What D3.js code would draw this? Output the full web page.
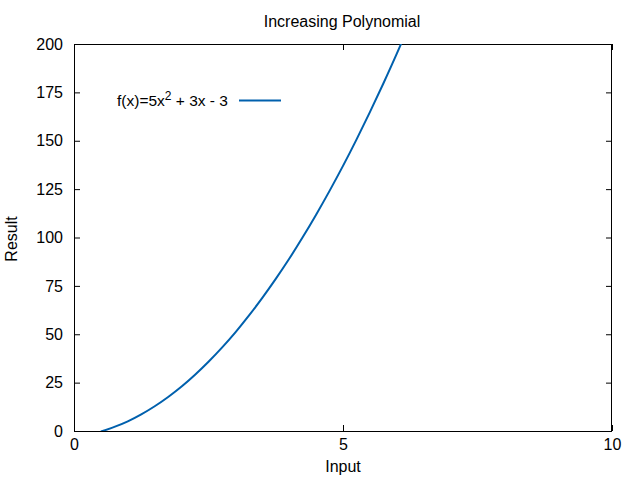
<!DOCTYPE html>
<html>
<head>
<meta charset="utf-8">
<script src="https://cdn.jsdelivr.net/npm/d3@7"></script>
<style>
  html, body { margin: 0; padding: 0; background: #fff; }
  svg { display: block; font-family: "Liberation Sans", Arial, sans-serif; }
</style>
</head>
<body>
<svg id="chart" width="640" height="480"></svg>
<script>
// Data
const inputs  = [0.5, 0.75, 1, 1.25, 1.5, 1.75, 2, 2.25, 2.5, 2.75, 3, 3.25, 3.5, 3.75, 4, 4.25, 4.5, 4.75, 5, 5.25, 5.5, 5.75, 6, 6.1];
const results = [-0.3, 2.1, 5, 8.6, 12.8, 17.6, 23, 29.1, 35.8, 43.1, 51, 59.6, 68.8, 78.6, 89, 100.1, 111.8, 124.1, 137, 150.6, 164.8, 179.6, 195, 201.4];
const xTicks = [0, 5, 10];
const yTicks = [0, 25, 50, 75, 100, 125, 150, 175, 200];
const titleText = "Increasing Polynomial";
const xLabel = "Input";
const yLabel = "Result";
const seriesName = "f(x)=5x";

const svg = d3.select("#chart");
const pL = 74, pR = 612, pT = 44, pB = 431;
const x = d3.scaleLinear().domain([0, 10]).range([pL, pR]);
const y = d3.scaleLinear().domain([0, 200]).range([pB, pT]);
const color = "#0060ad";

svg.append("defs").append("clipPath").attr("id", "clip")
  .append("rect").attr("x", pL).attr("y", pT).attr("width", pR - pL).attr("height", pB - pT);

// Axes with inward ticks
const tickLen = 6;
const axB = svg.append("g").attr("transform", `translate(0,${pB})`)
  .call(d3.axisBottom(x).tickValues(xTicks).tickSizeInner(-tickLen).tickSizeOuter(0).tickPadding(8));
const axT = svg.append("g").attr("transform", `translate(0,${pT})`)
  .call(d3.axisTop(x).tickValues(xTicks).tickSizeInner(-tickLen).tickSizeOuter(0).tickFormat(""));
const axL = svg.append("g").attr("transform", `translate(${pL},0)`)
  .call(d3.axisLeft(y).tickValues(yTicks).tickSizeInner(-tickLen).tickSizeOuter(0).tickPadding(11));
const axR = svg.append("g").attr("transform", `translate(${pR},0)`)
  .call(d3.axisRight(y).tickValues(yTicks).tickSizeInner(-tickLen).tickSizeOuter(0).tickFormat(""));
[axB, axT, axL, axR].forEach(g => {
  g.select(".domain").remove();
  g.selectAll("line").attr("stroke", "#000").attr("stroke-width", 1);
  g.selectAll("text").attr("font-size", 16).attr("fill", "#000")
    .attr("font-family", "Liberation Sans, Arial, sans-serif");
});
axB.selectAll("text").attr("dy", "0.71em");

// Frame
svg.append("rect").attr("x", pL + 0.5).attr("y", pT + 0.5)
  .attr("width", pR - pL - 1).attr("height", pB - pT)
  .attr("fill", "none").attr("stroke", "#000").attr("stroke-width", 1);

// Curve
const pts = inputs.map((d, i) => [d, results[i]]);
svg.append("path").datum(pts)
  .attr("clip-path", "url(#clip)")
  .attr("fill", "none").attr("stroke", color).attr("stroke-width", 2)
  .attr("d", d3.line().x(d => x(d[0])).y(d => y(d[1])).curve(d3.curveMonotoneX));

// Title & labels
svg.append("text").attr("x", 342).attr("y", 27).attr("text-anchor", "middle")
  .attr("font-size", 16).text(titleText);
svg.append("text").attr("x", 343).attr("y", 472).attr("text-anchor", "middle")
  .attr("font-size", 16).text(xLabel);
svg.append("text").attr("transform", "translate(17,239) rotate(-90)").attr("text-anchor", "middle")
  .attr("font-size", 16).text(yLabel);

// Legend
const lt = svg.append("text").attr("x", 117).attr("y", 106).attr("font-size", 15.5);
lt.append("tspan").text(seriesName);
lt.append("tspan").attr("dy", -6).attr("font-size", 12).text("2");
lt.append("tspan").attr("dy", 6).text(" + 3x - 3");
svg.append("line").attr("x1", 239).attr("x2", 281).attr("y1", 100.5).attr("y2", 100.5)
  .attr("stroke", color).attr("stroke-width", 2);
</script>
</body>
</html>
